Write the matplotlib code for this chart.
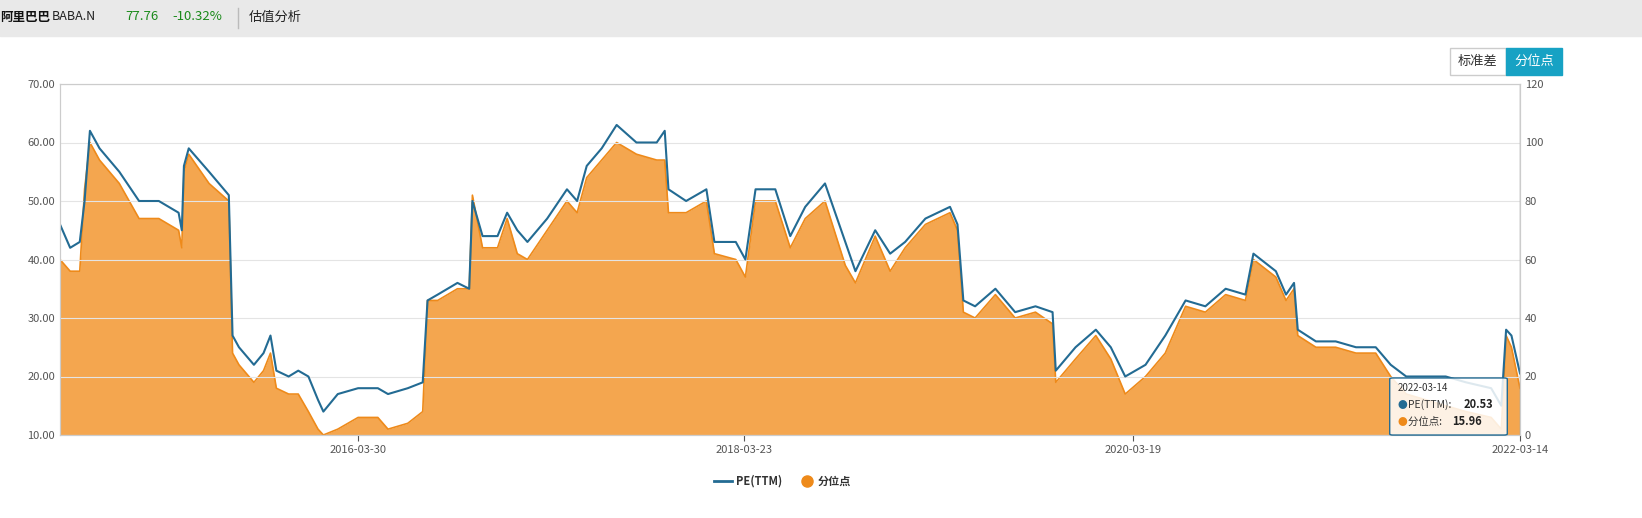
import matplotlib
matplotlib.use("Agg")
import matplotlib.pyplot as plt
import pandas as pd
from matplotlib.patches import Rectangle, FancyBboxPatch
from matplotlib.lines import Line2D

plt.rcParams['font.family'] = ['Noto Sans CJK SC', 'DejaVu Sans']

dates = ["2014-09-19","2014-10-08","2014-10-26","2014-11-04","2014-11-14","2014-12-02","2015-01-08","2015-02-14",
"2015-03-23","2015-04-29","2015-05-05","2015-05-09","2015-05-18","2015-06-25","2015-08-01","2015-08-08","2015-08-20",
"2015-09-17","2015-10-05","2015-10-18","2015-10-29","2015-11-21","2015-12-09","2015-12-28","2016-01-15","2016-01-25",
"2016-02-21","2016-03-30","2016-05-06","2016-05-25","2016-07-01","2016-07-29","2016-08-07","2016-08-26","2016-10-02",
"2016-10-24","2016-10-30","2016-11-18","2016-12-16","2017-01-03","2017-01-22","2017-02-10","2017-03-19","2017-04-25",
"2017-05-14","2017-06-01","2017-06-29","2017-07-27","2017-09-02","2017-10-10","2017-10-25","2017-11-01","2017-12-04",
"2018-01-11","2018-01-26","2018-03-07","2018-03-25","2018-04-13","2018-05-20","2018-06-17","2018-07-15","2018-08-21",
"2018-09-28","2018-10-17","2018-11-23","2018-12-21","2019-01-18","2019-02-25","2019-04-12","2019-04-26","2019-05-07",
"2019-05-29","2019-07-06","2019-08-12","2019-09-19","2019-10-21","2019-10-27","2019-12-03","2020-01-10","2020-02-07",
"2020-03-05","2020-04-12","2020-05-19","2020-06-26","2020-08-02","2020-09-09","2020-10-16","2020-10-31","2020-12-12",
"2020-12-31","2021-01-15","2021-01-22","2021-02-25","2021-04-03","2021-05-11","2021-06-17","2021-07-15","2021-08-13",
"2021-09-19","2021-10-26","2021-12-03","2022-01-19","2022-02-07","2022-02-16","2022-02-26","2022-03-14"]
pe = [46,42,43,50,62,59,55,50,50,48,45,56,59,55,51,27,25,22,24,27,21,20,21,20,16,14,17,18,18,17,18,19,33,34,36,35,50,
44,44,48,45,43,47,52,50,56,59,63,60,60,62,52,50,52,43,43,40,52,52,44,49,53,43,38,45,41,43,47,49,46,33,32,35,31,32,31,
21,25,28,25,20,22,27,33,32,35,34,41,38,34,36,28,26,26,25,25,22,20,20,20,19,18,15,28,27,20.53]
orange_left = [40,38,38,52,60,57,53,47,47,45,42,55,58,53,50,24,22,19,21,24,18,17,17,14,11,10,11,13,13,11,12,14,33,33,35,
35,51,42,42,47,41,40,45,50,48,54,57,60,58,57,57,48,48,50,41,40,37,50,50,42,47,50,39,36,44,38,42,46,48,45,31,30,34,30,
31,29,19,23,27,23,17,20,24,32,31,34,33,40,37,33,35,27,25,25,24,24,20,17,16,15,14,13,11,27,25,17.98]
pct = [2*(v-10) for v in orange_left]

x = pd.to_datetime(dates)
fig = plt.figure(figsize=(16.42, 5.18), dpi=100)
fig.patches.append(Rectangle((0, 1-36/518), 1, 36/518, transform=fig.transFigure, color='#e9e9e9', zorder=0))
fig.text(0.0, 1-17/518, "阿里巴巴", fontsize=9, va='center', color='#111', weight='bold')
fig.text(52/1642, 1-17/518, "BABA.N", fontsize=9, va='center', color='#222')
fig.text(125/1642, 1-17/518, "77.76", fontsize=9.5, va='center', color='#1a8a1a')
fig.text(172/1642, 1-17/518, "-10.32%", fontsize=9.5, va='center', color='#1a8a1a')
fig.add_artist(Line2D([238/1642, 238/1642], [1-8/518, 1-28/518], color='#bbb', lw=1))
fig.text(249/1642, 1-17/518, "估值分析", fontsize=9.5, va='center', color='#222')
fig.patches.append(Rectangle((1450/1642, 1-75/518), 56/1642, 27/518, transform=fig.transFigure, fc='white', ec='#ccc'))
fig.text(1478/1642, 1-61/518, "标准差", fontsize=9.5, ha='center', va='center', color='#333')
fig.patches.append(Rectangle((1506/1642, 1-75/518), 56/1642, 27/518, transform=fig.transFigure, fc='#17a2c4', ec='#17a2c4'))
fig.text(1534/1642, 1-61/518, "分位点", fontsize=9.5, ha='center', va='center', color='white')

ax = fig.add_axes([60/1642, 83/518, 1460/1642, 351/518])
ax2 = ax.twinx()
ax2.fill_between(x, pct, 0, color='#f39c3c', alpha=0.9, lw=0)
ax2.plot(x, pct, color='#ee8a1a', lw=1.2)
ax2.set_ylim(0, 120)
ax.set_zorder(ax2.get_zorder()+1); ax.patch.set_visible(False)
ax.plot(x, pe, color='#236b93', lw=1.5)
ax.set_ylim(10, 70)
ax.set_xlim(x[0], x[-1])
ax.set_yticks(range(10, 71, 10))
ax.set_yticklabels([f"{v:.2f}" for v in range(10, 71, 10)])
ax2.set_yticks(range(0, 121, 20))
ax.grid(axis='y', color='#e4e4e4', lw=0.8)
ticks = pd.to_datetime(["2016-03-30", "2018-03-23", "2020-03-19", "2022-03-14"])
ax.set_xticks(ticks)
ax.set_xticklabels([t.strftime("%Y-%m-%d") for t in ticks])
for a in (ax, ax2):
    a.tick_params(labelsize=8, colors='#555', length=4)
    for s in a.spines.values():
        s.set_color('#ccc')
ax.tick_params(axis='y', length=0)
ax2.tick_params(axis='y', length=0)
ax.axvline(x[-1], color='#999', lw=1)
fig.patches.append(FancyBboxPatch((1393/1642, 1-434/518), 111/1642, 55/518, transform=fig.transFigure,
    boxstyle='round,pad=0.002', fc=(1,1,1,0.85), ec='#236b93', lw=1, zorder=5))
fig.text(1398/1642, 1-391/518, "2022-03-14", fontsize=7, color='#333', zorder=6)
fig.text(1398/1642, 1-408/518, "● ", fontsize=7, color='#236b93', zorder=6)
fig.text(1408/1642, 1-408/518, "PE(TTM): ", fontsize=7.5, color='#333', zorder=6)
fig.text(1464/1642, 1-408/518, "20.53", fontsize=8, weight='bold', color='#222', zorder=6)
fig.text(1398/1642, 1-425/518, "● ", fontsize=7, color='#ee8a1a', zorder=6)
fig.text(1408/1642, 1-425/518, "分位点: ", fontsize=7.5, color='#333', zorder=6)
fig.text(1452/1642, 1-425/518, "15.96", fontsize=8, weight='bold', color='#222', zorder=6)
fig.add_artist(Line2D([714/1642, 732/1642], [1-481/518]*2, color='#236b93', lw=2))
fig.text(736/1642, 1-481/518, "PE(TTM)", fontsize=8, weight='bold', va='center', color='#333')
fig.add_artist(Line2D([807/1642], [1-481/518], marker='o', ms=8, color='#ee8a1a'))
fig.text(818/1642, 1-481/518, "分位点", fontsize=8, weight='bold', va='center', color='#333')
fig.savefig("out.png", dpi=100)
